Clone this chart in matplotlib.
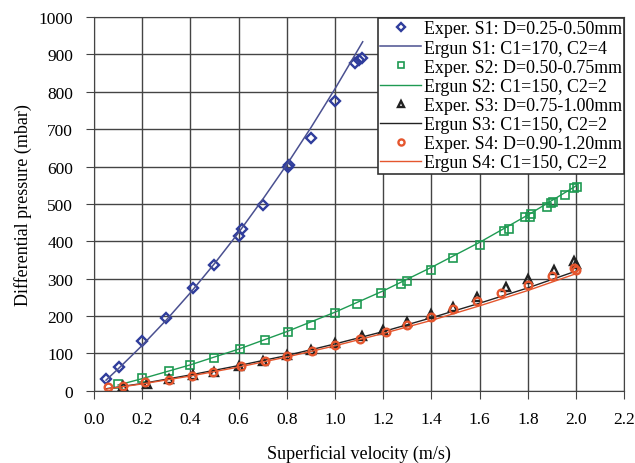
import matplotlib.pyplot as plt

plt.rcParams['font.family'] = ['Liberation Serif', 'DejaVu Serif']

# experimental points
s1_v = [0.05, 0.104, 0.2, 0.30, 0.41, 0.50, 0.60, 0.615, 0.70, 0.805, 0.81, 0.90, 1.0, 1.085, 1.10, 1.11]
s1_dp = [30, 64, 134, 194, 274, 335, 415, 433, 498, 598, 603, 677, 776, 876, 886, 891]

s2_v = [0.10, 0.20, 0.31, 0.40, 0.50, 0.605, 0.71, 0.805, 0.90, 1.0, 1.09, 1.19, 1.275, 1.297,
        1.40, 1.49, 1.60, 1.70, 1.72, 1.79, 1.81, 1.815, 1.88, 1.895, 1.905, 1.955, 1.99, 2.005]
s2_dp = [18, 33, 52, 68, 88, 111, 135, 157, 177, 208, 233, 262, 286, 293,
         324, 355, 389, 427, 433, 464, 466, 474, 492, 502, 505, 525, 543, 545]

s3_v = [0.12, 0.22, 0.31, 0.41, 0.50, 0.60, 0.70, 0.80, 0.90, 1.0, 1.11, 1.20, 1.30, 1.40,
        1.49, 1.59, 1.71, 1.80, 1.91, 1.99, 2.0]
s3_dp = [12, 18, 30, 42, 50, 66, 80, 95, 110, 128, 147, 161, 183, 204,
         225, 250, 277, 298, 322, 346, 340]

s4_v = [0.06, 0.12, 0.21, 0.31, 0.405, 0.495, 0.61, 0.71, 0.80, 0.905, 1.0, 1.105, 1.21, 1.30,
        1.40, 1.49, 1.59, 1.69, 1.80, 1.90, 1.99, 2.0]
s4_dp = [11, 13, 22, 29, 40, 49, 65, 78, 92, 107, 123, 139, 156, 176,
         197, 219, 239, 261, 284, 308, 328, 322]

# Ergun model curves
e1_v = [0.05, 0.1, 0.2, 0.3, 0.4, 0.5, 0.6, 0.7, 0.8, 0.9, 1.0, 1.115]
e1_dp = [28, 58, 121, 189, 262, 340, 423, 512, 605, 704, 808, 934]

e2_v = [0.1, 0.2, 0.4, 0.6, 0.8, 1.0, 1.2, 1.4, 1.6, 1.8, 2.0]
e2_dp = [15, 32, 69, 111, 158, 210, 267, 330, 397, 470, 548]

e3_v = [0.05, 0.2, 0.4, 0.6, 0.8, 1.0, 1.2, 1.4, 1.6, 1.8, 2.0]
e3_dp = [5, 19, 42, 67, 94, 125, 158, 195, 234, 275, 320]

e4_v = [0.05, 0.2, 0.4, 0.6, 0.8, 1.0, 1.2, 1.4, 1.6, 1.8, 2.0]
e4_dp = [4, 18, 39, 63, 90, 120, 153, 188, 227, 268, 313]

blue = '#2f3d9c'
blue_line = '#4a5090'
green = '#1e9a52'
orange = '#e5562e'

fig = plt.figure(figsize=(6.35, 4.64), dpi=100)
ax = fig.add_axes([0.148, 0.156, 0.835, 0.805])

ms = 5.5
ax.plot(s1_v, s1_dp, 'D', ms=ms - 0.5, mfc='none', mec=blue, mew=1.7,
        label='Exper. S1: D=0.25-0.50mm')
ax.plot(e1_v, e1_dp, '-', color=blue_line, lw=1.1, label='Ergun S1: C1=170, C2=4')
ax.plot(s2_v, s2_dp, 's', ms=ms, mfc='none', mec=green, mew=1.2,
        label='Exper. S2: D=0.50-0.75mm')
ax.plot(e2_v, e2_dp, '-', color=green, lw=1.0, label='Ergun S2: C1=150, C2=2')
ax.plot(s3_v, s3_dp, '^', ms=ms, mfc='none', mec='#222222', mew=1.7,
        label='Exper. S3: D=0.75-1.00mm')
ax.plot(e3_v, e3_dp, '-', color='#222222', lw=1.0, label='Ergun S3: C1=150, C2=2')
ax.plot(s4_v, s4_dp, 'o', ms=ms, mfc='none', mec=orange, mew=1.7,
        label='Exper. S4: D=0.90-1.20mm')
ax.plot(e4_v, e4_dp, '-', color=orange, lw=1.0, label='Ergun S4: C1=150, C2=2')

ax.set_xlim(0, 2.2)
ax.set_ylim(0, 1000)
ax.set_xticks([0.0, 0.2, 0.4, 0.6, 0.8, 1.0, 1.2, 1.4, 1.6, 1.8, 2.0, 2.2])
ax.set_yticks(range(0, 1001, 100))
ax.xaxis.set_major_formatter(plt.FormatStrFormatter('%.1f'))
ax.grid(True, color='#444444', lw=1.0)
ax.set_axisbelow(True)
for sp in ax.spines.values():
    sp.set_color('#444444')
ax.tick_params(direction='out', length=6, color='#444444', labelsize=12.5)
ax.tick_params(axis='x', pad=9)
ax.tick_params(axis='y', pad=9)

ax.set_xlabel('Superficial velocity (m/s)', fontsize=13, labelpad=12)
ax.set_ylabel('Differential pressure (mbar)', fontsize=13, labelpad=5)

leg = ax.legend(loc='upper right', bbox_to_anchor=(1.0, 0.997), fontsize=12.9,
                frameon=True, fancybox=False, framealpha=1, edgecolor='#333333',
                borderpad=0.12, labelspacing=0.12, handlelength=2.3, handletextpad=0.15,
                borderaxespad=0.0, markerscale=0.8)
leg.get_frame().set_linewidth(1.2)

fig.savefig('out.png', dpi=100)
